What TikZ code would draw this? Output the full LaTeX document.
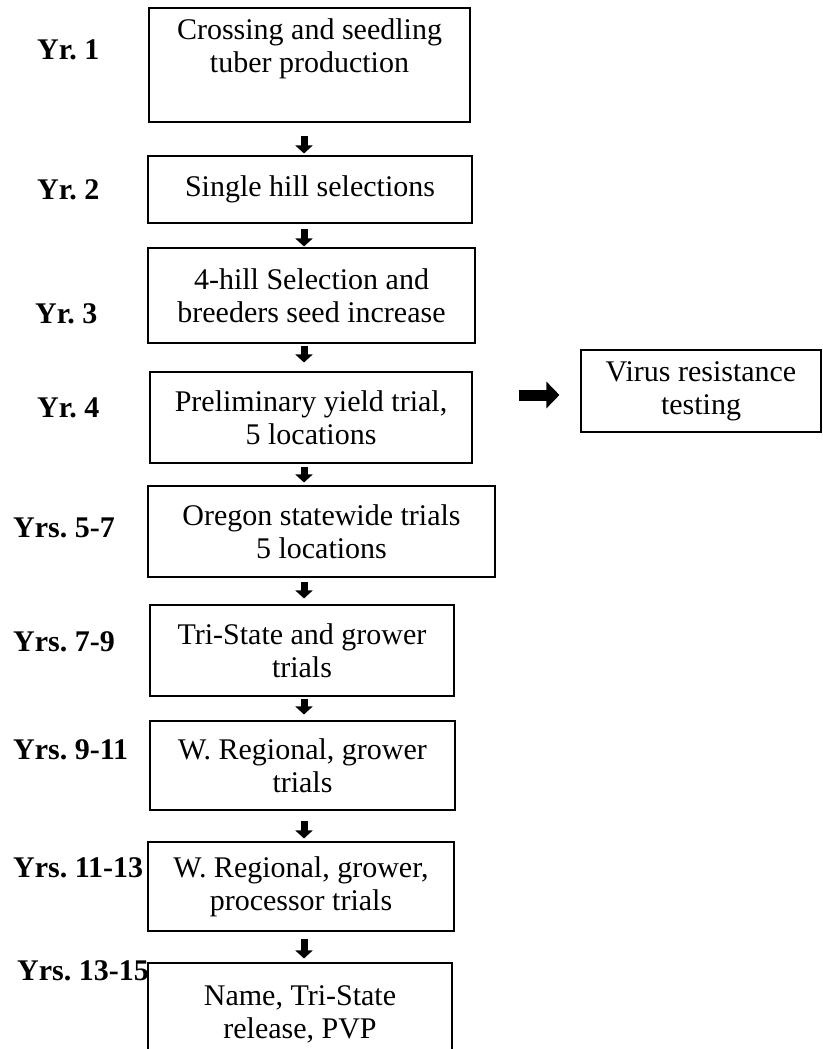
\documentclass[tikz,border=0pt]{standalone}
\usepackage{fontspec}
\setmainfont{Liberation Serif}
\usetikzlibrary{arrows.meta,positioning}
\frenchspacing

\begin{document}
\begin{tikzpicture}[x=1pt,y=-1pt,
        stagetext/.style={align=center, inner sep=0pt, font=\fontsize{30}{33}\selectfont},
        stage/.style={stagetext, draw, line width=1.1pt},
        year/.style={anchor=west, inner sep=0pt, font=\fontsize{30}{33}\selectfont\bfseries},
        flow/.style={line width=7pt, -{Triangle[length=8pt,width=17pt]}},
        side/.style={line width=11pt, -{Triangle[length=13pt,width=26pt]}}]
        \clip (0,0) rectangle (822,1049);
        % breeding stages
        \node[stage, minimum width=321pt, minimum height=114pt,
              label={[stagetext, yshift=16pt]center:{Crossing and seedling\\tuber production}}] (s1) at (309.5,65) {};
        \node[stage, minimum width=324pt, minimum height=67pt] (s2) at (310,189.5) {Single hill selections};
        \node[stage, minimum width=327pt, minimum height=95pt] (s3) at (311.5,295.5) {4-hill Selection and\\breeders seed increase};
        \node[stage, minimum width=322pt, minimum height=91pt] (s4) at (311,417.5) {Preliminary yield trial,\\5 locations};
        \node[stage, minimum width=347pt, minimum height=91pt] (s5) at (321.5,531.5) {Oregon statewide trials\\5 locations};
        \node[stage, minimum width=304pt, minimum height=91pt] (s6) at (302,650.5) {Tri-State and grower\\trials};
        \node[stage, minimum width=305pt, minimum height=89pt] (s7) at (302.5,765.5) {W. Regional, grower\\trials};
        \node[stage, minimum width=306pt, minimum height=89pt] (s8) at (301,886.5) {W. Regional, grower,\\processor trials};
        \node[stage, minimum width=304pt, minimum height=102pt] (s9) at (300,1014) {Name, Tri-State\\release, PVP};
        \node[stage, minimum width=240pt, minimum height=82pt] (vr) at (701,391) {Virus resistance\\testing};
        % years
        \node[year] (y1) at (37,50) {Yr. 1};
        \node[year] (y2) at (37,190) {Yr. 2};
        \node[year] (y3) at (35,314) {Yr. 3};
        \node[year] (y4) at (37,408) {Yr. 4};
        \node[year] (y5) at (13,528) {Yrs. 5-7};
        \node[year] (y6) at (13,642) {Yrs. 7-9};
        \node[year] (y7) at (13,750) {Yrs. 9-11};
        \node[year] (y8) at (13,868) {Yrs. 11-13};
        \node[year] (y9) at (17,971) {Yrs. 13-15};
        % arrows
        \coordinate (spine) at (304,0);
        \foreach \a/\b/\p/\q in {s1/s2/13/2, s2/s3/5/1, s3/s4/2/9, s4/s5/3/3,
                                 s5/s6/4/6, s6/s7/2/6, s7/s8/10/3, s8/s9/7/4}
            \draw[flow, shorten <=\p pt, shorten >=\q pt] (\a.south -| spine) -- (\b.north -| spine);
        \draw[side, shorten <=46pt, shorten >=21pt] (s4.east |- vr.west) ++(0,4) -- ([yshift=-4pt]vr.west);
\end{tikzpicture}
\end{document}
